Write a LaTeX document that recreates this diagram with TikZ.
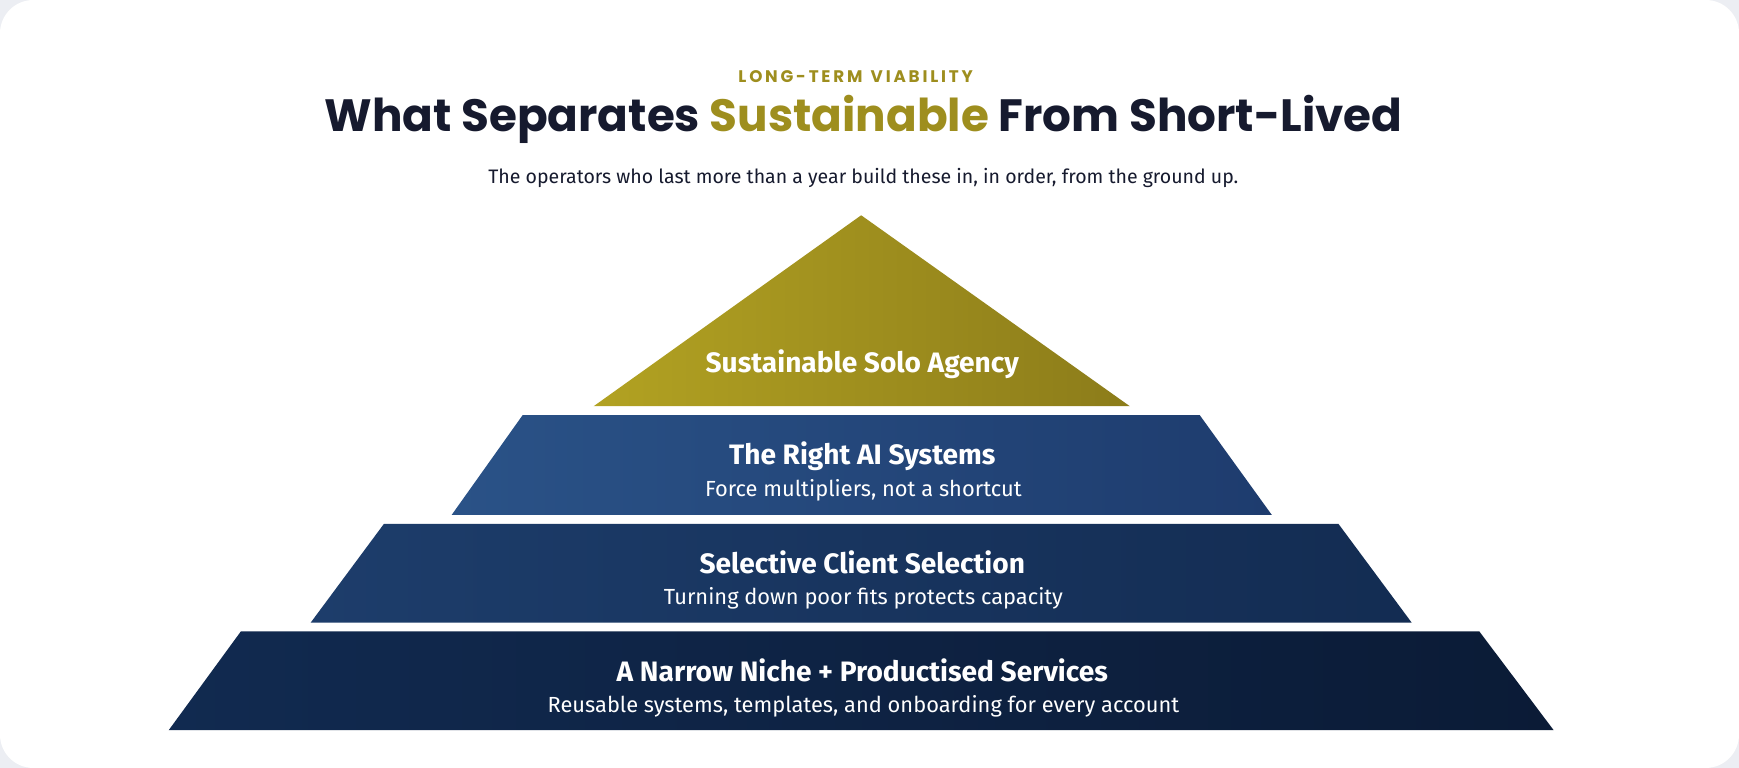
\documentclass[tikz,border=0pt]{standalone}
\usepackage{fontspec}
\setmainfont{Fira Sans}
\newfontfamily\pop{Poppins}
\begin{document}
\begin{tikzpicture}[x=0.01cm,y=-0.01cm,
  tt/.style={text=white,font=\fontsize{7.2}{8}\selectfont\bfseries},
  st/.style={text=white,font=\fontsize{5.6}{7}\selectfont}]
\definecolor{olive}{HTML}{9E8E1E}
\definecolor{ink}{HTML}{161A2E}
\fill[color={rgb,255:red,236;green,238;blue,243}] (0,0) rectangle (1567,692);
\fill[white,rounded corners=0.3cm] (0,0) rectangle (1567,692);
\useasboundingbox (0,0) rectangle (1567,692);
\node[text=olive,font=\pop\fontsize{4.3}{5}\selectfont\bfseries] (kick) at (771,69) {L\,O\,N\,G\,-\,T\,E\,R\,M\; V\,I\,A\,B\,I\,L\,I\,T\,Y};
\node[text=ink,font=\pop\fontsize{11.6}{13}\selectfont\bfseries] (title) at (778,108) {What Separates \textcolor{olive}{Sustainable} From Short-Lived};
\node[text=ink,font=\fontsize{5}{6}\selectfont] (sub) at (778,160) {The operators who last more than a year build these in, in order, from the ground up.};
\shade[left color={rgb,255:red,178;green,162;blue,34},right color={rgb,255:red,140;green,124;blue,26}] (776,194) -- (1018,366) -- (535,366) -- cycle;
\shade[left color={rgb,255:red,42;green,82;blue,135},right color={rgb,255:red,30;green,60;blue,110}] (471,374) -- (1081,374) -- (1146,464) -- (407,464) -- cycle;
\shade[left color={rgb,255:red,29;green,61;blue,107},right color={rgb,255:red,19;green,44;blue,82}] (346,472) -- (1206,472) -- (1272,561) -- (280,561) -- cycle;
\shade[left color={rgb,255:red,17;green,42;blue,80},right color={rgb,255:red,11;green,27;blue,54}] (217,569) -- (1333,569) -- (1400,658) -- (152,658) -- cycle;
\node[tt] (t1) at (777,328) {Sustainable Solo Agency};
\node[tt] (t2) at (777,411) {The Right AI Systems};
\node[st] (s2) at (778,442) {Force multipliers, not a shortcut};
\node[tt] (t3) at (777,507) {Selective Client Selection};
\node[st] (s3) at (778,539) {Turning down poor fits protects capacity};
\node[tt] (t4) at (777,604) {A Narrow Niche + Productised Services};
\node[st] (s4) at (778,636) {Reusable systems, templates, and onboarding for every account};
\end{tikzpicture}
\end{document}
